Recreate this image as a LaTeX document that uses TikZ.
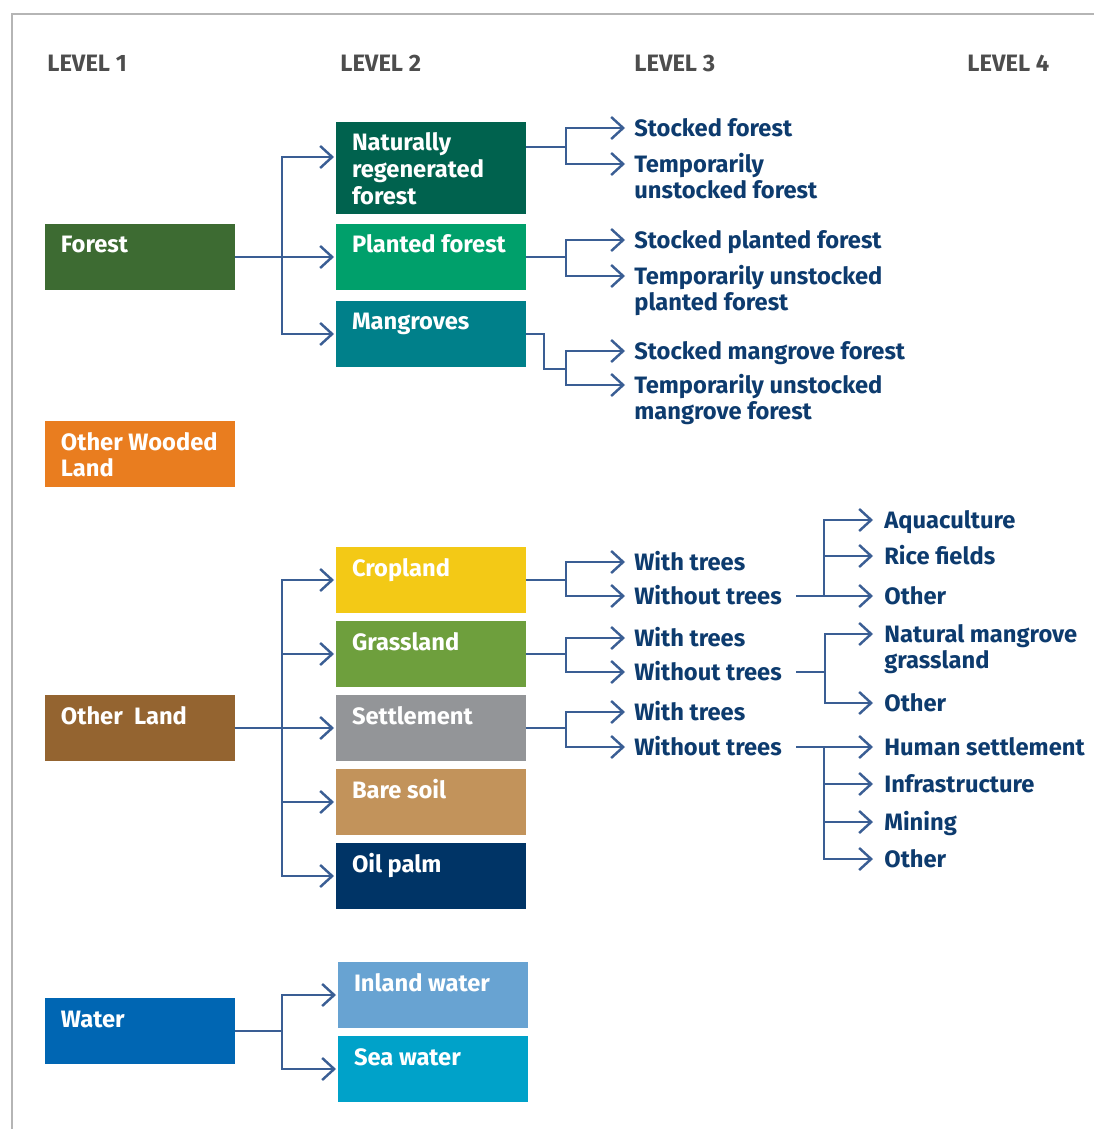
\documentclass[tikz,border=0pt]{standalone}
\usepackage{fontspec}
\setmainfont{Fira Sans}
\usetikzlibrary{arrows.meta}

\definecolor{framec}{HTML}{B5B5B5}
\definecolor{headc}{HTML}{4D4D4D}
\definecolor{linkc}{HTML}{3A5E94}
\definecolor{labc}{HTML}{0D3B6E}
\definecolor{forestc}{HTML}{3D6B32}
\definecolor{natregc}{HTML}{00624E}
\definecolor{plantc}{HTML}{00A06B}
\definecolor{mangrc}{HTML}{00808A}
\definecolor{owlc}{HTML}{E97D1F}
\definecolor{olandc}{HTML}{946430}
\definecolor{cropc}{HTML}{F3C916}
\definecolor{grassc}{HTML}{6E9F3D}
\definecolor{settlec}{HTML}{939598}
\definecolor{barec}{HTML}{C2935B}
\definecolor{oilc}{HTML}{003466}
\definecolor{waterc}{HTML}{0066B3}
\definecolor{inlandc}{HTML}{68A3D2}
\definecolor{seac}{HTML}{00A2C9}

\newcommand{\tip}[1]{([shift={(-9,-8)}]#1.base west)}
\newcommand{\lvtip}[1]{([shift={(-11,-8)}]#1.base west)}

\tikzset{
  txtfont/.style={font=\fontsize{13.5}{15.2}\selectfont\bfseries},
  lvbox/.style={txtfont, anchor=north west, inner xsep=0.32cm, inner ysep=0pt, outer sep=0pt,
    text width=3.16cm, align=flush left, text height=0.58cm, text depth=0.74cm, text=white},
  lvtxt/.style={txtfont, anchor=base west, inner sep=0pt, text=labc},
  lvtxtii/.style={lvtxt, text width=6cm, align=flush left},
  lvhead/.style={txtfont, anchor=base west, inner sep=0pt, text=headc},
  link/.style={draw=linkc, line width=1.4pt},
  arr/.style={link, -{Straight Barb[length=2.4mm,width=4.4mm]}},
  arrb/.style={arr, shorten >=0.04cm}
}

\begin{document}
\begin{tikzpicture}[x=0.02cm,y=-0.02cm]
\useasboundingbox (0,0) rectangle (1094,1129);
\draw[framec, line width=1.1pt] (1094,14) -- (12,14) -- (12,1129);

\draw (47,71) node[lvhead] (h1) {LEVEL 1};
\draw (340,71) node[lvhead] (h2) {LEVEL 2};
\draw (634,71) node[lvhead] (h3) {LEVEL 3};
\draw (967,71) node[lvhead] (h4) {LEVEL 4};

\draw (45,224) node[lvbox, fill=forestc] (forest) {Forest};
\draw (45,421) node[lvbox, fill=owlc] (owl) {Other Wooded Land};
\draw (45,695) node[lvbox, fill=olandc] (oland) {Other~ Land};
\draw (45,998) node[lvbox, fill=waterc] (water) {Water};

\draw (336,122) node[lvbox, fill=natregc, text depth=1.26cm] (natreg) {Naturally regenerated forest};
\draw (336,224) node[lvbox, fill=plantc] (plant) {Planted forest};
\draw (336,301) node[lvbox, fill=mangrc] (mangr) {Mangroves};
\draw (336,547) node[lvbox, fill=cropc] (crop) {Cropland};
\draw (336,621) node[lvbox, fill=grassc] (grass) {Grassland};
\draw (336,695) node[lvbox, fill=settlec] (settle) {Settlement};
\draw (336,769) node[lvbox, fill=barec] (bare) {Bare soil};
\draw (336,843) node[lvbox, fill=oilc] (oil) {Oil palm};
\draw (338,962) node[lvbox, fill=inlandc] (inland) {Inland water};
\draw (338,1036) node[lvbox, fill=seac] (sea) {Sea water};

\draw (634,136) node[lvtxt] (stk1) {Stocked forest};
\draw (634,172) node[lvtxtii] (tmp1) {Temporarily\\unstocked forest};
\draw (634,248) node[lvtxt] (stk2) {Stocked planted forest};
\draw (634,284) node[lvtxtii] (tmp2) {Temporarily unstocked\\planted forest};
\draw (634,359) node[lvtxt] (stk3) {Stocked mangrove forest};
\draw (634,393) node[lvtxtii] (tmp3) {Temporarily unstocked\\mangrove forest};
\draw (634,570) node[lvtxt] (wt1) {With trees};
\draw (634,604) node[lvtxt] (wot1) {Without trees};
\draw (634,646) node[lvtxt] (wt2) {With trees};
\draw (634,680) node[lvtxt] (wot2) {Without trees};
\draw (634,720) node[lvtxt] (wt3) {With trees};
\draw (634,755) node[lvtxt] (wot3) {Without trees};

\draw (884,528) node[lvtxt] (aqua) {Aquaculture};
\draw (884,564) node[lvtxt] (rice) {Rice fields};
\draw (884,604) node[lvtxt] (oth1) {Other};
\draw (884,642) node[lvtxtii] (natm) {Natural mangrove\\grassland};
\draw (884,711) node[lvtxt] (oth2) {Other};
\draw (884,755) node[lvtxt] (hums) {Human settlement};
\draw (884,792) node[lvtxt] (infra) {Infrastructure};
\draw (884,830) node[lvtxt] (mine) {Mining};
\draw (884,867) node[lvtxt] (oth3) {Other};

\draw[arrb] (forest.east) -- ++(47,0) |- ([yshift=0.22cm]natreg.west);
\draw[arrb] (forest.east) -- ++(47,0) |- (plant.west);
\draw[arrb] (forest.east) -- ++(47,0) |- (mangr.west);

\draw[arrb] (oland.east) -- ++(47,0) |- (crop.west);
\draw[arrb] (oland.east) -- ++(47,0) |- (grass.west);
\draw[arrb] (oland.east) -- ++(47,0) |- (settle.west);
\draw[arrb] (oland.east) -- ++(47,0) |- (bare.west);
\draw[arrb] (oland.east) -- ++(47,0) |- (oil.west);

\draw[arrb] (water.east) -- ++(47,0) |- (inland.west);
\draw[arrb] (water.east) -- ++(47,0) |- (sea.west);

\draw[arr] ([yshift=0.42cm]natreg.east) -- ++(40,0) |- \tip{stk1};
\draw[arr] ([yshift=0.42cm]natreg.east) -- ++(40,0) |- \tip{tmp1};
\draw[arr] (plant.east) -- ++(40,0) |- \tip{stk2};
\draw[arr] (plant.east) -- ++(40,0) |- \tip{tmp2};
\draw[link] (mangr.east) -- ++(18,0) |- ++(22,35) coordinate (mj);
\draw[arr] (mj) |- \tip{stk3};
\draw[arr] (mj) |- \tip{tmp3};

\draw[arr] (crop.east) -- ++(40,0) |- \tip{wt1};
\draw[arr] (crop.east) -- ++(40,0) |- \tip{wot1};
\draw[arr] (grass.east) -- ++(40,0) |- \tip{wt2};
\draw[arr] (grass.east) -- ++(40,0) |- \tip{wot2};
\draw[arr] (settle.east) -- ++(40,0) |- \tip{wt3};
\draw[arr] (settle.east) -- ++(40,0) |- \tip{wot3};

\draw[arr] ([shift={(14,-8)}]wot1.base east) -- ++(28,0) coordinate (j1) -- \lvtip{oth1};
\draw[arr] (j1) |- \lvtip{aqua};
\draw[arr] (j1) |- \lvtip{rice};

\draw[link] ([shift={(14,-8)}]wot2.base east) -- ++(29,0) coordinate (j2);
\draw[arr] (j2) |- \lvtip{natm};
\draw[arr] (j2) |- \lvtip{oth2};

\draw[arr] ([shift={(14,-8)}]wot3.base east) -- ++(28,0) coordinate (j3) -- \lvtip{hums};
\draw[arr] (j3) |- \lvtip{infra};
\draw[arr] (j3) |- \lvtip{mine};
\draw[arr] (j3) |- \lvtip{oth3};
\end{tikzpicture}
\end{document}
